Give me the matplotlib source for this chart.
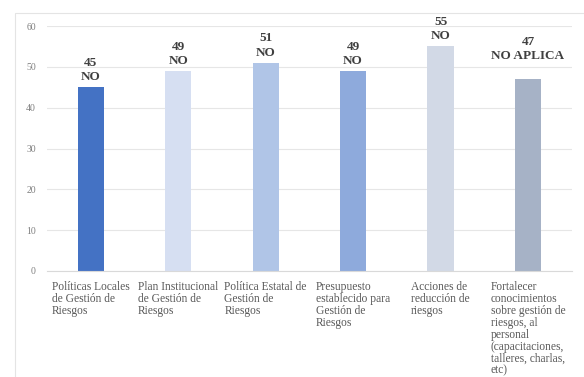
import numpy as np
import matplotlib.pyplot as plt
from matplotlib.patches import Rectangle

categorias = [
    "Políticas Locales\nde Gestión de\nRiesgos",
    "Plan Institucional\nde Gestión de\nRiesgos",
    "Política Estatal de\nGestión de\nRiesgos",
    "Presupuesto\nestablecido para\nGestión de\nRiesgos",
    "Acciones de\nreducción de\nriesgos",
    "Fortalecer\nconocimientos\nsobre gestión de\nriesgos, al\npersonal\n(capacitaciones,\ntalleres, charlas,\netc)",
]
valores = [45, 49, 51, 49, 55, 47]
respuestas = ["NO", "NO", "NO", "NO", "NO", "NO APLICA"]
colores = ["#4472c4", "#d6dff2", "#b0c5e7", "#8eaadc", "#d2d9e6", "#a6b2c6"]
y_ticks = [0, 10, 20, 30, 40, 50, 60]

plt.rcParams['font.family'] = ['Liberation Serif', 'DejaVu Serif']

fig = plt.figure(figsize=(5.84, 3.77), dpi=100)
ax = fig.add_axes([0.0805, 0.2812, 0.8985, 0.6498])

# marco exterior del grafico
fig.patches.append(Rectangle((15 / 584, -0.01), 1.0, 1 - 13 / 377 + 0.01,
                             transform=fig.transFigure, fill=False,
                             edgecolor="#e4e4e4", lw=0.8))

x = np.arange(len(categorias))
barras = ax.bar(x, valores, width=0.3, color=colores, zorder=2)

# la etiqueta de la ultima barra va algo mas arriba
desplaz = [3, 3, 3, 3, 3, 12]
for b, v, r, d in zip(barras, valores, respuestas, desplaz):
    ax.annotate(f"{v}\n{r}", (b.get_x() + b.get_width() / 2, v),
                xytext=(0, d), textcoords="offset points",
                ha="center", va="bottom", fontsize=9.5, fontweight="bold",
                color="#404040", linespacing=1.25)

ax.set_xlim(-0.5, len(categorias) - 0.5)
ax.set_ylim(0, 60)
ax.set_yticks(y_ticks)
ax.yaxis.grid(True, color="#e6e6e6", lw=0.8, zorder=0)
ax.tick_params(axis="y", length=0, labelsize=7, labelcolor="#7f7f7f", pad=8)
ax.tick_params(axis="x", length=0, pad=7)

ax.set_xticks(x)
ax.set_xticklabels(categorias, fontsize=8.3, color="#595959",
                   multialignment="left", linespacing=1.0, va="top")

for s in ["top", "right", "left"]:
    ax.spines[s].set_visible(False)
ax.spines["bottom"].set_color("#d9d9d9")

fig.savefig("out.png", dpi=100)
